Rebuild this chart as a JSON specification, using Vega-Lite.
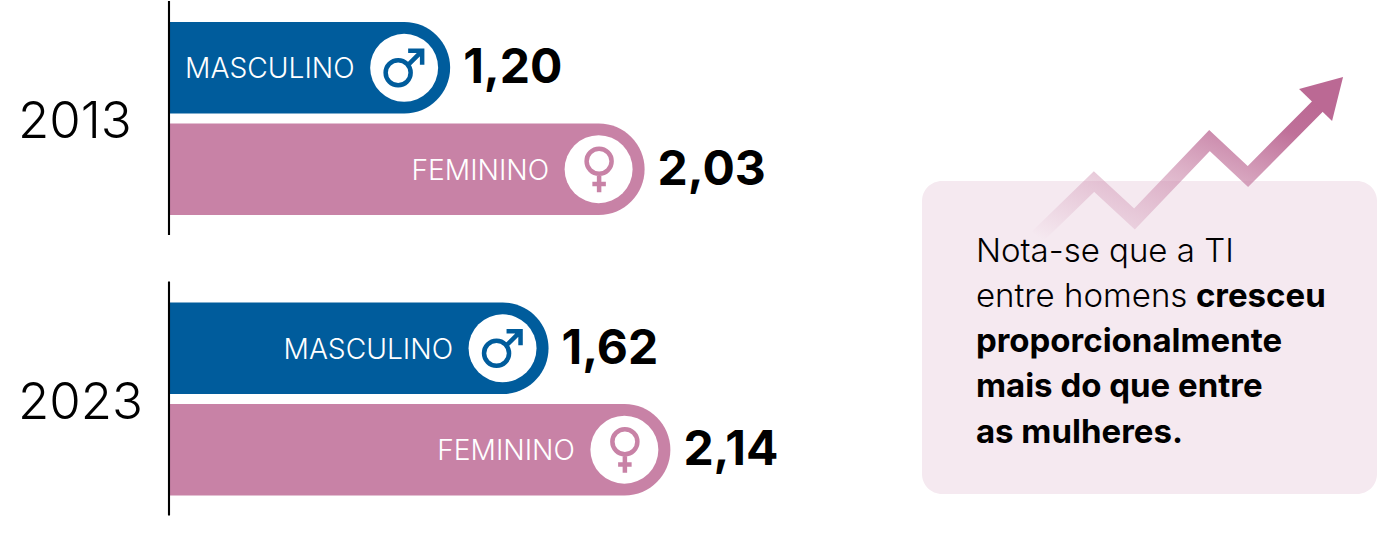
{
"$schema":"https://vega.github.io/schema/vega-lite/v6.json",
"width":1377,"height":541,"padding":0,"autosize":{"type":"none"},
"background":"white","config":{"view":{"stroke":null}},
"datasets":{
"taxa":[
{"ano":"2013","sexo":"MASCULINO","valor":1.20,"rotulo":"1,20"},
{"ano":"2013","sexo":"FEMININO","valor":2.03,"rotulo":"2,03"},
{"ano":"2023","sexo":"MASCULINO","valor":1.62,"rotulo":"1,62"},
{"ano":"2023","sexo":"FEMININO","valor":2.14,"rotulo":"2,14"}],
"anos":[{"ano":"2013"},{"ano":"2023"}],
"caixa":[{"x0":3.214,"x1":5.156,"y0":33.46,"y1":91.31}],
"seta":[{"x":3.705,"y":43.8,"o":1},{"x":3.948,"y":33.55,"o":2},{"x":4.121,"y":40.48,"o":3},{"x":4.441,"y":25.97,"o":4},{"x":4.605,"y":32.62,"o":5},{"x":4.904,"y":19.6,"o":6}],
"ponta":[{"x":4.913,"y":18.11}],
"nota":[
{"x":3.444,"y":46.4,"t":"Nota-se que a TI","b":false},
{"x":3.444,"y":54.7,"t":"entre homens","b":false},
{"x":4.383,"y":54.7,"t":"cresceu","b":true},
{"x":3.444,"y":63.0,"t":"proporcionalmente","b":true},
{"x":3.444,"y":71.3,"t":"mais do que entre","b":true},
{"x":3.444,"y":79.85,"t":"as mulheres.","b":true}]
},
"resolve":{"scale":{"y":"independent"}},
"layer":[
{"encoding":{"y":{"field":"y","type":"quantitative","scale":{"domain":[100,0]},"axis":null}},
"layer":[
{"data":{"name":"caixa"},"mark":{"type":"rect","color":"#f5e9f0","cornerRadius":20},
"encoding":{"x":{"field":"x0","type":"quantitative","scale":{"domain":[-0.7213,5.156]},"axis":null},"x2":{"field":"x1"},"y":{"field":"y0","type":"quantitative","scale":{"domain":[100,0]},"axis":null},"y2":{"field":"y1"}}},
{"data":{"name":"seta"},"mark":{"type":"line","strokeWidth":15,"strokeJoin":"miter","strokeCap":"butt","stroke":{"gradient":"linear","x1":0,"y1":1,"x2":1,"y2":0,"stops":[{"offset":0,"color":"rgba(200,130,166,0.0)"},{"offset":0.5,"color":"rgba(200,130,166,0.6)"},{"offset":0.85,"color":"#bf7099"},{"offset":1,"color":"#bb6994"}]}},
"encoding":{"x":{"field":"x","type":"quantitative","scale":{"domain":[-0.7213,5.156]},"axis":null},"order":{"field":"o"}}},
{"data":{"name":"ponta"},"mark":{"type":"point","filled":true,"opacity":1,"color":"#bb6994","size":2500,"shape":"M.92 -.84L-.84 -.36L.48 .92Z"},
"encoding":{"x":{"field":"x","type":"quantitative","scale":{"domain":[-0.7213,5.156]},"axis":null}}},
{"data":{"name":"nota"},"transform":[{"filter":"!datum.b"}],"mark":{"type":"text","align":"left","baseline":"middle","font":"Inter","fontSize":33,"fontWeight":300,"color":"#000000","dy":1},
"encoding":{"x":{"field":"x","type":"quantitative","scale":{"domain":[-0.7213,5.156]},"axis":null},"text":{"field":"t"}}},
{"data":{"name":"nota"},"transform":[{"filter":"datum.b"}],"mark":{"type":"text","align":"left","baseline":"middle","font":"Inter","fontSize":33,"fontWeight":700,"color":"#000000","dy":1},
"encoding":{"x":{"field":"x","type":"quantitative","scale":{"domain":[-0.7213,5.156]},"axis":null},"text":{"field":"t"}}}
]},
{"encoding":{"y":{"field":"ano","type":"nominal","scale":{"domain":["2013","2023"],"range":[1,515.5],"paddingInner":0.1658,"paddingOuter":0},"axis":null}},
"layer":[
{"data":{"name":"anos"},"mark":{"type":"text","align":"left","baseline":"middle","font":"Inter","fontSize":51,"fontWeight":300,"color":"#000000","dy":5},
"encoding":{"x":{"datum":-0.645,"type":"quantitative","scale":{"domain":[-0.7213,5.156]},"axis":null},"text":{"field":"ano"}}},
{"data":{"name":"taxa"},
"encoding":{
"yOffset":{"field":"sexo","type":"nominal","scale":{"domain":["MASCULINO","FEMININO"],"range":[21,214],"paddingInner":0.097,"paddingOuter":0}},
"x":{"field":"valor","type":"quantitative","scale":{"domain":[-0.7213,5.156]},"axis":null,"stack":null}},
"layer":[
{"mark":{"type":"bar","cornerRadiusEnd":45.8},"encoding":{"fill":{"field":"sexo","type":"nominal","legend":null,"scale":{"domain":["MASCULINO","FEMININO"],"range":["#005c9c","#c882a6"]}}}},
{"mark":{"type":"point","filled":true,"opacity":1,"color":"#ffffff","size":4620,"shape":"circle","xOffset":-46}},
{"mark":{"type":"point","filled":false,"opacity":1,"strokeWidth":4.5,"size":2500,"xOffset":-46},
"encoding":{"stroke":{"field":"sexo","type":"nominal","legend":null,"scale":{"domain":["MASCULINO","FEMININO"],"range":["#005c9c","#c882a6"]}},
"shape":{"field":"sexo","type":"nominal","legend":null,"scale":{"domain":["MASCULINO","FEMININO"],"range":["M.26 .2A.5 .5 0 1 0 -.74 .2A.5 .5 0 1 0 .26 .2ZM.12 -.08L.74 -.7M.16 -.68H.72V-.12","M.52 -.32A.5 .5 0 1 0 -.48 -.32A.5 .5 0 1 0 .52 -.32ZM.02 .2V.92M-.25 .59H.29"]}}}},
{"mark":{"type":"text","align":"right","baseline":"middle","font":"Inter","fontSize":28.2,"fontWeight":300,"color":"#ffffff","dx":-95.5,"dy":2.5},"encoding":{"text":{"field":"sexo"}}},
{"mark":{"type":"text","align":"left","baseline":"middle","font":"Inter","fontSize":48,"fontWeight":700,"color":"#000000","dx":13,"dy":1.5},"encoding":{"text":{"field":"rotulo"}}}
]},
{"data":{"name":"anos"},"mark":{"type":"bar","color":"#000000"},
"encoding":{"x":{"datum":-0.0045,"type":"quantitative","scale":{"domain":[-0.7213,5.156]},"axis":null},"x2":{"datum":0.0045}}}
]}
]
}
